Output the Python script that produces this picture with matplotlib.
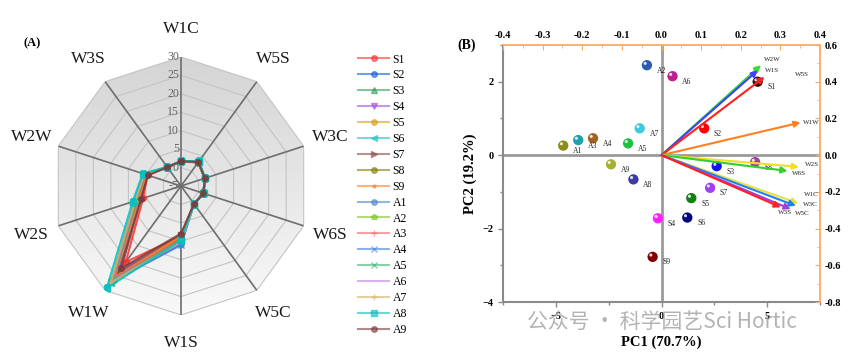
import matplotlib.pyplot as plt
import numpy as np
from matplotlib.patches import Polygon
from matplotlib.ticker import AutoMinorLocator, FormatStrFormatter
from matplotlib.transforms import offset_copy

plt.rcParams['font.family'] = ['Liberation Serif', 'DejaVu Serif']

# Data_________________________________________________________________________
sensors = ['W1C', 'W5S', 'W3C', 'W6S', 'W5C', 'W1S', 'W1W', 'W2S', 'W2W', 'W3S']
samples = ['S1', 'S2', 'S3', 'S4', 'S5', 'S6', 'S7', 'S8', 'S9',
           'A1', 'A2', 'A3', 'A4', 'A5', 'A6', 'A7', 'A8', 'A9']

# sensor response per sample (rows follow `samples`, columns follow `sensors`)
radar_values = np.array([
    [1.6, 2.9, 1.8, 1.4, 1.0, 8.6, 20.5, 5.8, 4.6, 1.3],
    [1.7, 3.0, 1.8, 1.4, 1.0, 9.0, 24.5, 6.6, 5.0, 1.3],
    [1.7, 3.1, 1.8, 1.4, 1.0, 9.3, 26.0, 7.2, 5.1, 1.3],
    [1.7, 3.0, 1.8, 1.4, 1.0, 8.9, 25.0, 6.9, 5.0, 1.3],
    [1.7, 3.0, 1.8, 1.4, 1.0, 8.8, 26.5, 7.4, 5.2, 1.3],
    [1.7, 3.1, 1.8, 1.4, 1.0, 9.6, 27.5, 7.8, 5.4, 1.3],
    [1.7, 3.0, 1.8, 1.4, 1.0, 8.4, 23.5, 6.6, 4.8, 1.3],
    [1.7, 3.0, 1.8, 1.4, 1.0, 9.2, 26.8, 7.5, 5.2, 1.3],
    [1.7, 3.0, 1.8, 1.4, 1.0, 8.7, 25.5, 7.0, 5.0, 1.3],
    [1.7, 3.0, 1.8, 1.4, 1.0, 10.8, 27.0, 8.0, 5.4, 1.3],
    [1.7, 3.0, 1.8, 1.4, 1.0, 9.8, 26.8, 7.8, 5.3, 1.3],
    [1.7, 3.0, 1.8, 1.4, 1.0, 9.5, 26.0, 7.5, 5.2, 1.3],
    [1.7, 3.1, 1.8, 1.4, 1.0, 11.0, 27.2, 8.2, 5.5, 1.3],
    [1.7, 3.0, 1.8, 1.4, 1.0, 9.9, 26.5, 7.6, 5.3, 1.3],
    [1.7, 3.0, 1.8, 1.4, 1.0, 10.2, 27.0, 8.0, 5.4, 1.3],
    [1.7, 3.0, 1.8, 1.4, 1.0, 10.0, 27.6, 8.1, 5.5, 1.3],
    [1.8, 3.3, 1.9, 1.5, 1.0, 9.7, 29.3, 8.8, 5.9, 1.4],
    [1.7, 3.0, 1.8, 1.4, 1.0, 7.9, 22.6, 6.4, 4.4, 1.3],
])
radar_levels = [-5, 0, 5, 10, 15, 20, 25, 30]

# PCA scores
score_names = ['A2', 'A6', 'S1', 'S2', 'A7', 'A1', 'A3', 'A4', 'A5',
               'A9', 'A8', 'S3', 'S8', 'S7', 'S5', 'S6', 'S4', 'S9']
pc1 = [-0.69, 0.52, 4.55, 2.02, -1.03, -4.65, -3.94, -3.24, -1.58,
       -2.39, -1.33, 2.61, 4.43, 2.30, 1.41, 1.22, -0.17, -0.42]
pc2 = [2.45, 2.15, 2.00, 0.73, 0.73, 0.26, 0.41, 0.46, 0.32,
       -0.25, -0.66, -0.30, -0.19, -0.89, -1.17, -1.70, -1.72, -2.77]

# PCA loadings
load_names = ['W2W', 'W1S', 'W5S', 'W1W', 'W2S', 'W6S', 'W1C', 'W3C', 'W5C', 'W3S']
load1 = [0.251, 0.243, 0.260, 0.351, 0.347, 0.318, 0.345, 0.339, 0.326, 0.301]
load2 = [0.490, 0.462, 0.426, 0.178, -0.064, -0.086, -0.262, -0.276, -0.294, -0.284]

# Styles_______________________________________________________________________
line_colors = ['#ff3030', '#1560e0', '#2ea060', '#a050e0', '#d4a017', '#20c0c0',
               '#8b4b4b', '#808000', '#ff7f27', '#4a86c8', '#7cc520', '#ff6060',
               '#4080e0', '#3cb371', '#c080e0', '#d2b060', '#00c0c0', '#7b3b3b']
line_markers = ['o', 'o', '^', 'v', 'o', '<', '>', 'o', '.', 'o', 'p', '+',
                'x', 'x', '', '+', 's', 'o']
score_colors = ['#2a5db0', '#c0208f', '#301010', '#ff0000', '#40c8e0', '#8c8c1a',
                '#20a0a8', '#a0641e', '#20c040', '#a8b030', '#3c3ca0', '#1010ff',
                '#a040a0', '#a040f0', '#108010', '#000080', '#ff20ff', '#800000']
load_colors = ['#30e030', '#4040ff', '#ff2020', '#ff8020', '#f0e020', '#30d030',
               '#e8e040', '#2080f0', '#a040e0', '#ff2020']
load_offsets = [(2, 4), (5, 0), (22, 2), (2, 0), (4, 2), (3, -2),
                (4, 6), (5, 1), (3, -3), (-2, -4)]

fig = plt.figure(figsize=(8.65, 3.58), dpi=100)

# (A) radar chart______________________________________________________________
pos = [0.0601, 0.1201, 0.2983, 0.7207]
ang = np.linspace(0, 2 * np.pi, len(sensors), endpoint=False)
ang_c = np.append(ang, ang[0])

bg = fig.add_axes(pos, zorder=0)
bg.set_xlim(-1, 1)
bg.set_ylim(-1, 1)
bg.axis('off')
grad = np.linspace(0.975, 0.83, 256)[:, None]
img = bg.imshow(np.repeat(grad, 2, axis=1), cmap='gray', vmin=0, vmax=1,
                extent=[-1, 1, -1, 1], origin='lower', aspect='auto')
deca = Polygon(np.column_stack([np.sin(ang), np.cos(ang)]), closed=True,
               transform=bg.transData, facecolor='none', edgecolor='none')
bg.add_patch(deca)
img.set_clip_path(deca)

ax = fig.add_axes(pos, projection='polar', zorder=1)
ax.patch.set_alpha(0)
ax.set_theta_zero_location('N')
ax.set_theta_direction(-1)
ax.set_ylim(-5, 30)
ax.grid(False)
ax.set_xticks([])
ax.set_yticks([])
ax.spines['polar'].set_visible(False)

for lvl in radar_levels[1:]:
    ax.plot(ang_c, [lvl] * len(ang_c), color='#c4c4c4', lw=0.8, zorder=1)
for a in ang:
    ax.plot([a, a], [-5, 30], color='#6e6e6e', lw=1.2, zorder=2)
for a, name in zip(ang, sensors):
    ax.text(a, 37.6, name, ha='center', va='center', fontsize=12.5, color='#1a1a1a')
for lvl in radar_levels:
    ax.annotate(str(lvl), (0, lvl), xytext=(-1.5, 0), textcoords='offset points',
                ha='right', va='center', fontsize=8.5, color='#666666', zorder=3)

for i, name in enumerate(samples):
    vals = np.append(radar_values[i], radar_values[i][0])
    ax.plot(ang_c, vals, color=line_colors[i], marker=line_markers[i], ms=4,
            lw=1.5, alpha=0.85, label=name, zorder=4)

leg = fig.legend(*ax.get_legend_handles_labels(), loc='upper left',
                 bbox_to_anchor=(0.402, 0.88), frameon=False, fontsize=8.5,
                 handlelength=2.6, handletextpad=0.3, labelspacing=0.33)
for h in leg.legend_handles:
    h.set_alpha(0.6)
fig.text(32 / 865, 1 - 43 / 358, '(A)', fontsize=9, fontweight='bold',
         ha='center', va='center')

# (B) PCA biplot_______________________________________________________________
bx = fig.add_axes([0.5815, 0.1564, 0.3665, 0.7179])
bx.set_xlim(-7.5, 7.5)
bx.set_ylim(-4, 3)
bx.axhline(0, color='#9a9a9a', lw=2, zorder=1)
bx.axvline(0, color='#9a9a9a', lw=2, zorder=1)
for s in ['top', 'right']:
    bx.spines[s].set_visible(False)
for s in ['left', 'bottom']:
    bx.spines[s].set_color('#8a8a8a')
    bx.spines[s].set_linewidth(1.5)
bx.set_xticks([-5, 0, 5])
bx.set_yticks([-4, -2, 0, 2])
bx.xaxis.set_minor_locator(AutoMinorLocator(2))
bx.yaxis.set_minor_locator(AutoMinorLocator(2))
bx.tick_params(which='both', direction='out', color='#8a8a8a', labelsize=7.5, width=1)
bx.tick_params(which='major', length=3.5)
bx.tick_params(which='minor', length=2)
for lab in bx.get_xticklabels() + bx.get_yticklabels():
    lab.set_fontweight('bold')
bx.set_xlabel('PC1 (70.7%)', fontsize=10.5, fontweight='bold', labelpad=11)
bx.set_ylabel('PC2 (19.2%)', fontsize=10.5, fontweight='bold', labelpad=4)

bx.scatter(pc1, pc2, s=55, c=score_colors, edgecolors='none', zorder=3)
shine = offset_copy(bx.transData, fig=fig, x=-1.3, y=1.3, units='points')
bx.scatter(pc1, pc2, s=5, c='white', alpha=0.85, edgecolors='none',
           transform=shine, zorder=4)
for name, x, y in zip(score_names, pc1, pc2):
    bx.annotate(name, (x, y), xytext=(7, -4), textcoords='offset points',
                fontsize=5.5, ha='left', va='center', color='#222222')

tx = bx.twinx()
ty = tx.twiny()
tx.set_ylim(-0.8, 0.6)
ty.set_xlim(-0.4, 0.4)
for t in (tx, ty):
    for s in t.spines.values():
        s.set_visible(False)
tx.spines['right'].set_visible(True)
tx.spines['right'].set_color('#ffaa60')
tx.spines['right'].set_linewidth(1.3)
ty.spines['top'].set_visible(True)
ty.spines['top'].set_color('#ffaa60')
ty.spines['top'].set_linewidth(1.3)
tx.set_yticks(np.round(np.arange(-0.8, 0.61, 0.2), 1) + 0.0)
ty.set_xticks(np.round(np.arange(-0.4, 0.41, 0.1), 1) + 0.0)
tx.yaxis.set_major_formatter(FormatStrFormatter('%.1f'))
ty.xaxis.set_major_formatter(FormatStrFormatter('%.1f'))
tx.yaxis.set_minor_locator(AutoMinorLocator(2))
ty.xaxis.set_minor_locator(AutoMinorLocator(2))
tx.tick_params(axis='y', which='both', direction='in', color='#ffaa60', labelsize=7.5)
ty.tick_params(axis='x', which='both', direction='in', color='#ffaa60', labelsize=7.5)
for t in (tx, ty):
    t.tick_params(which='major', length=3.5)
    t.tick_params(which='minor', length=2)
for lab in tx.get_yticklabels() + ty.get_xticklabels():
    lab.set_fontweight('bold')

for name, x, y, c, off in zip(load_names, load1, load2, load_colors, load_offsets):
    ty.annotate('', xy=(x, y), xytext=(0, 0),
                arrowprops=dict(arrowstyle='-|>', color=c, lw=1.5,
                                mutation_scale=9, shrinkA=0, shrinkB=0))
    ty.annotate(name, (x, y), xytext=off, textcoords='offset points',
                fontsize=5, ha='left', va='center', color='#222222')

fig.text(467 / 865, 1 - 45 / 358, '(B)', fontsize=10, fontweight='bold',
         ha='center', va='center')

fig.text(527 / 865, 1 - 322 / 358, '公众号 · 科学园艺Sci Hortic', fontsize=15,
         color='#a0a0a0', alpha=0.8, ha='left', va='center',
         family=['Noto Sans CJK SC', 'DejaVu Sans'])

fig.savefig('out.png', dpi=100)
